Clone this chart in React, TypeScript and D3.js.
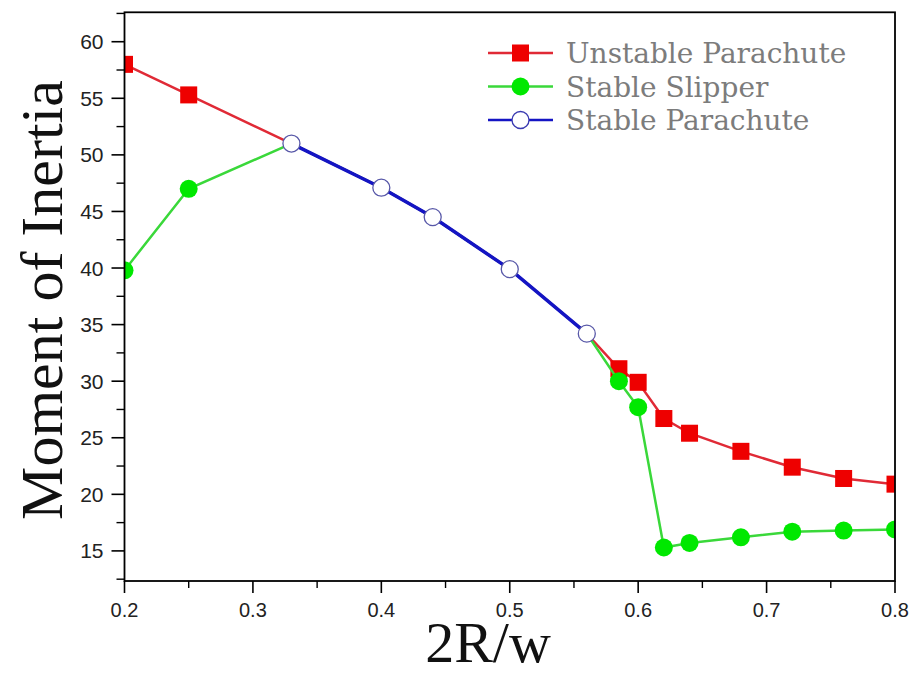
import React from "react";
import * as d3 from "d3";

const unstableX = [0.2, 0.25, 0.33, 0.4, 0.44, 0.5, 0.56, 0.585, 0.6, 0.62, 0.64, 0.68, 0.72, 0.76, 0.8];
const unstableY = [58.0, 55.3, 51.0, 47.1, 44.5, 39.9, 34.2, 31.1, 29.9, 26.7, 25.4, 23.8, 22.4, 21.4, 20.9];

const slipperX = [0.2, 0.25, 0.33, 0.4, 0.44, 0.5, 0.56, 0.585, 0.6, 0.62, 0.64, 0.68, 0.72, 0.76, 0.8];
const slipperY = [39.8, 47.0, 51.0, 47.1, 44.5, 39.9, 34.2, 30.0, 27.7, 15.3, 15.7, 16.2, 16.7, 16.8, 16.9];

const stableX = [0.33, 0.4, 0.44, 0.5, 0.56];
const stableY = [51.0, 47.1, 44.5, 39.9, 34.2];

const legendLabels = ["Unstable Parachute", "Stable Slipper", "Stable Parachute"];
const xTicks = [0.2, 0.3, 0.4, 0.5, 0.6, 0.7, 0.8];
const xMinorTicks = [0.25, 0.35, 0.45, 0.55, 0.65, 0.75];
const yTicks = [15, 20, 25, 30, 35, 40, 45, 50, 55, 60];
const yMinorTicks = [12.5, 17.5, 22.5, 27.5, 32.5, 37.5, 42.5, 47.5, 52.5, 57.5, 62.5];

const W = 910;
const H = 676;
const L = 124.5;
const R = 895;
const T = 12.3;
const B = 581;

const RED_LINE = "#e02a36";
const RED = "#ee0000";
const GREEN_LINE = "#3ad83a";
const GREEN = "#00e800";
const BLUE = "#1414c4";

export default function App() {
  const x = d3.scaleLinear().domain([0.2, 0.8]).range([L, R]);
  const y = d3.scaleLinear().domain([12.34, 62.6]).range([B, T]);

  const unstable = unstableX.map((v, i) => [v, unstableY[i]] as [number, number]);
  const slipper = slipperX.map((v, i) => [v, slipperY[i]] as [number, number]);
  const stable = stableX.map((v, i) => [v, stableY[i]] as [number, number]);

  const line = d3
    .line<[number, number]>()
    .x((d) => x(d[0]))
    .y((d) => y(d[1]));

  const isStable = (v: number) => stableX.includes(v);
  const sq = 17;
  const cr = 9;
  const br = 8.5;

  const tickFont = "'Liberation Sans', Arial, sans-serif";
  const serif = "'Liberation Serif', 'Times New Roman', serif";

  return (
    <svg
      width={W}
      height={H}
      style={{ position: "absolute", left: 0, top: 0, background: "#fff" }}
    >
      <defs>
        <clipPath id="plotclip">
          <rect x={L} y={T} width={R - L} height={B - T} />
        </clipPath>
      </defs>
      <rect x={0} y={0} width={W} height={H} fill="#fff" />

      {/* Legend */}
      {legendLabels.map((lab, i) => {
        const cy = 53 + i * 33.5;
        const lc = [RED_LINE, GREEN_LINE, BLUE][i];
        return (
          <g key={lab}>
            <line x1={488} x2={553} y1={cy} y2={cy} stroke={lc} strokeWidth={2.5} />
            {i === 0 && <rect x={520.5 - sq / 2} y={cy - sq / 2} width={sq} height={sq} fill={RED} />}
            {i === 1 && <circle cx={520.5} cy={cy} r={cr} fill={GREEN} />}
            {i === 2 && (
              <circle cx={520.5} cy={cy} r={br} fill="#fff" stroke="#3a3ab0" strokeWidth={1.3} />
            )}
            <text
              x={566}
              y={cy + 10}
              fontFamily="'DejaVu Serif', serif"
              fontSize={28}
              fill="#7c7c7c"
            >
              {lab}
            </text>
          </g>
        );
      })}

      <g clipPath="url(#plotclip)">
        <path d={line(unstable) || ""} fill="none" stroke={RED_LINE} strokeWidth={2.5} />
        {unstable
          .filter((d) => !isStable(d[0]))
          .map((d, i) => (
            <rect
              key={"u" + i}
              x={x(d[0]) - sq / 2}
              y={y(d[1]) - sq / 2}
              width={sq}
              height={sq}
              fill={RED}
            />
          ))}
        <path d={line(slipper) || ""} fill="none" stroke={GREEN_LINE} strokeWidth={2.5} />
        {slipper
          .filter((d) => !isStable(d[0]))
          .map((d, i) => (
            <circle key={"s" + i} cx={x(d[0])} cy={y(d[1])} r={cr} fill={GREEN} />
          ))}
        <path d={line(stable) || ""} fill="none" stroke={BLUE} strokeWidth={3.5} />
        {stable.map((d, i) => (
          <circle
            key={"b" + i}
            cx={x(d[0])}
            cy={y(d[1])}
            r={br}
            fill="#fff"
            stroke="#5858a8"
            strokeWidth={1.3}
          />
        ))}
      </g>

      {/* Frame */}
      <rect x={L} y={T} width={R - L} height={B - T} fill="none" stroke="#000" strokeWidth={1.8} />

      {/* Y axis ticks */}
      {yTicks.map((t) => (
        <g key={"yt" + t}>
          <line x1={L - 13} x2={L} y1={y(t)} y2={y(t)} stroke="#000" strokeWidth={1.6} />
          <text
            x={L - 21}
            y={y(t)}
            dy="0.36em"
            textAnchor="end"
            fontFamily={tickFont}
            fontSize={21}
            fill="#222"
          >
            {t}
          </text>
        </g>
      ))}
      {yMinorTicks
        .filter((t) => y(t) >= T && y(t) <= B)
        .map((t) => (
          <line key={"ym" + t} x1={L - 8} x2={L} y1={y(t)} y2={y(t)} stroke="#000" strokeWidth={1.4} />
        ))}

      {/* X axis ticks */}
      {xTicks.map((t) => (
        <g key={"xt" + t}>
          <line x1={x(t)} x2={x(t)} y1={B} y2={B + 12} stroke="#000" strokeWidth={1.6} />
          <text
            x={x(t)}
            y={617}
            textAnchor="middle"
            fontFamily={tickFont}
            fontSize={20}
            fill="#222"
          >
            {t.toFixed(1)}
          </text>
        </g>
      ))}
      {xMinorTicks.map((t) => (
        <line key={"xm" + t} x1={x(t)} x2={x(t)} y1={B} y2={B + 7} stroke="#000" strokeWidth={1.4} />
      ))}

      {/* Axis titles */}
      <text
        transform={`translate(62, 300) rotate(-90)`}
        textAnchor="middle"
        fontFamily={serif}
        fontSize={60}
        fill="#111"
      >
        Moment of Inertia
      </text>
      <text x={488} y={662} textAnchor="middle" fontFamily={serif} fontSize={58} fill="#111">
        2R/w
      </text>
    </svg>
  );
}
